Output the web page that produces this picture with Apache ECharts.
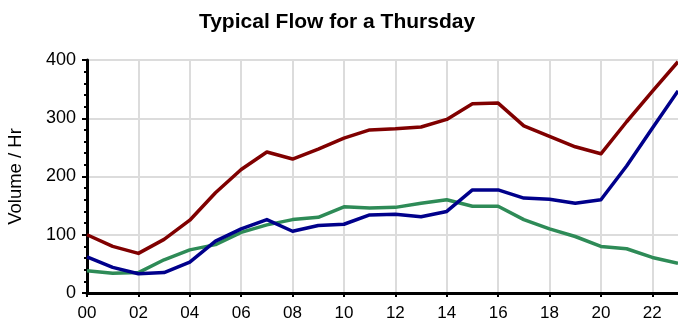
<!DOCTYPE html>
<html>
<head>
<meta charset="utf-8">
<script src="https://cdn.jsdelivr.net/npm/echarts@6/dist/echarts.min.js"></script>
<style>
  html, body { margin: 0; padding: 0; background: #fff; }
  #chart { width: 678px; height: 329px; }
</style>
</head>
<body>
<div id="chart"></div>
<script>
// Hour-of-day categories
const hours = ['00','01','02','03','04','05','06','07','08','09','10','11',
               '12','13','14','15','16','17','18','19','20','21','22','23'];

// Hourly volumes, one array per line
const redFlow   = [100, 80, 68, 92, 125, 172, 212, 242, 230, 247, 266, 280,
                   282, 285, 298, 325, 326, 287, 269, 251, 239, 294, 346, 397];
const blueFlow  = [62, 44, 33, 35, 53, 89, 110, 126, 106, 116, 118, 134,
                   135, 131, 140, 177, 177, 163, 161, 154, 160, 218, 283, 347];
const greenFlow = [38, 34, 35, 57, 74, 83, 104, 117, 126, 130, 148, 146,
                   147, 154, 160, 149, 149, 126, 110, 97, 80, 76, 61, 51];

const FONT = '"Liberation Sans", Arial, Helvetica, sans-serif';

const chart = echarts.init(document.getElementById('chart'), null, { renderer: 'canvas' });

function line(data, color) {
  return {
    type: 'line',
    data: data,
    symbol: 'none',
    smooth: false,
    lineStyle: { color: color, width: 3.5, join: 'round' },
    itemStyle: { color: color },
    z: 3
  };
}

chart.setOption({
  animation: false,
  backgroundColor: '#ffffff',
  title: {
    text: 'Typical Flow for a Thursday',
    left: 332,
    textAlign: 'center',
    top: 7,
    textStyle: { fontFamily: FONT, fontSize: 21, fontWeight: 'bold', color: '#000' }
  },
  grid: { left: 87, right: 0, top: 60, bottom: 36, containLabel: false, outerBoundsMode: 'none' },
  xAxis: {
    type: 'category',
    data: hours,
    boundaryGap: false,
    axisLine: { lineStyle: { color: '#000', width: 3 } },
    axisTick: { interval: 1, length: 4, lineStyle: { color: '#000', width: 2 } },
    axisLabel: { interval: 1, color: '#000', fontFamily: FONT, fontSize: 17, margin: 12 },
    splitLine: { show: true, interval: 1, lineStyle: { color: '#dcdcdc', width: 2 } }
  },
  yAxis: {
    type: 'value',
    min: 0,
    max: 400,
    interval: 100,
    name: 'Volume / Hr',
    nameLocation: 'middle',
    nameGap: 62,
    nameTextStyle: { fontFamily: FONT, fontSize: 18.5, color: '#000' },
    axisLine: { show: true, lineStyle: { color: '#000', width: 3 } },
    axisTick: { show: true, length: 5, lineStyle: { color: '#000', width: 2 } },
    minorTick: { show: true, splitNumber: 5, length: 3, lineStyle: { color: '#000', width: 2 } },
    axisLabel: { color: '#000', fontFamily: FONT, fontSize: 18, margin: 11 },
    splitLine: { show: true, lineStyle: { color: '#dcdcdc', width: 2 } }
  },
  series: [
    line(greenFlow, '#2e8b57'),
    line(blueFlow, '#00008b'),
    line(redFlow, '#800000')
  ]
});
</script>
</body>
</html>
